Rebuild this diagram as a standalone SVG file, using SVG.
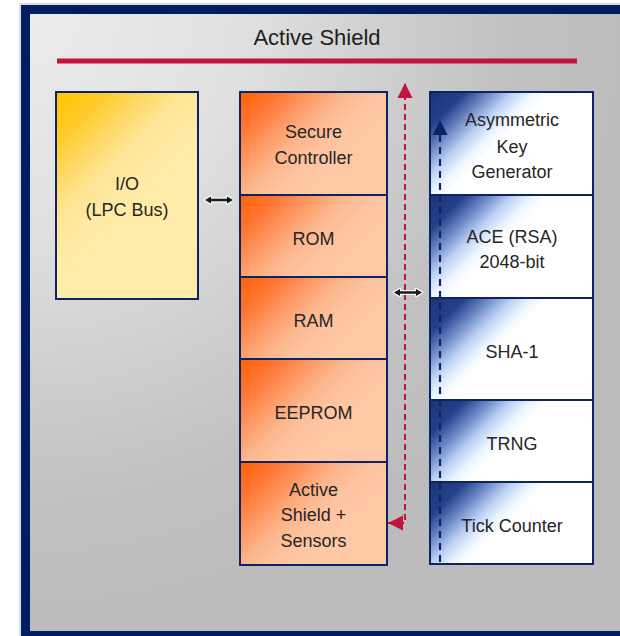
<svg xmlns="http://www.w3.org/2000/svg" xmlns:xlink="http://www.w3.org/1999/xlink" width="620" height="636" viewBox="0 0 620 636">
  <style>
    .cell { stroke: #0c2463; stroke-width: 2; }
    .lbl { font-family: "Liberation Sans", Arial, sans-serif; font-size: 18px; fill: #262626; text-anchor: middle; }
    .title { font-family: "Liberation Sans", Arial, sans-serif; font-size: 22px; fill: #1e1e1e; text-anchor: middle; }
    .bus-red { fill: none; stroke: #c0143c; stroke-width: 2; stroke-dasharray: 6 4; }
    .bus-blue { fill: none; stroke: #0c2463; stroke-width: 2.2; stroke-dasharray: 7 5; }
  </style>
  <defs>
    <radialGradient id="bg" gradientUnits="userSpaceOnUse" cx="30" cy="15" r="600">
      <stop offset="0" stop-color="#ececec"/>
      <stop offset="0.35" stop-color="#e0e0e0"/>
      <stop offset="0.8" stop-color="#c1c1c1"/>
      <stop offset="1" stop-color="#bcbcbc"/>
    </radialGradient>

    <!-- diagonal shading from the top-left corner of each block -->
    <linearGradient id="gold" x1="0" y1="0" x2="0.45" y2="0.657">
      <stop offset="0" stop-color="#ffc400"/>
      <stop offset="0.25" stop-color="#ffcb28"/>
      <stop offset="0.45" stop-color="#ffd865"/>
      <stop offset="0.65" stop-color="#ffe594"/>
      <stop offset="0.85" stop-color="#ffeaa5"/>
      <stop offset="1" stop-color="#ffeca9"/>
    </linearGradient>

    <linearGradient id="orangeStops">
      <stop offset="0" stop-color="#ff6205"/>
      <stop offset="0.22" stop-color="#ff7430"/>
      <stop offset="0.42" stop-color="#ff9660"/>
      <stop offset="0.62" stop-color="#fcb68c"/>
      <stop offset="0.8" stop-color="#fec3a0"/>
      <stop offset="1" stop-color="#fec8a6"/>
    </linearGradient>
    <linearGradient id="orangeTall" xlink:href="#orangeStops" x1="0" y1="0" x2="0.776" y2="0.543"/>
    <linearGradient id="orangeShort" xlink:href="#orangeStops" x1="0" y1="0" x2="0.882" y2="0.492"/>

    <linearGradient id="blueStops">
      <stop offset="0" stop-color="#1b3573"/>
      <stop offset="0.22" stop-color="#24408a"/>
      <stop offset="0.38" stop-color="#6f8bc8"/>
      <stop offset="0.52" stop-color="#bcd0f4"/>
      <stop offset="0.64" stop-color="#e8f4ff"/>
      <stop offset="0.74" stop-color="#ffffff"/>
      <stop offset="1" stop-color="#ffffff"/>
    </linearGradient>
    <linearGradient id="blueTall" xlink:href="#blueStops" x1="0" y1="0" x2="0.70" y2="0.443"/>
    <linearGradient id="blueShort" xlink:href="#blueStops" x1="0" y1="0" x2="0.78" y2="0.394"/>

    <marker id="headRed" viewBox="0 0 10 10" refX="10" refY="5" markerUnits="userSpaceOnUse" markerWidth="15" markerHeight="16" orient="auto-start-reverse">
      <path d="M0,0 L10,5 L0,10 z" fill="#c0143c"/>
    </marker>
    <marker id="headBlue" viewBox="0 0 10 10" refX="10" refY="5" markerUnits="userSpaceOnUse" markerWidth="15" markerHeight="16" orient="auto">
      <path d="M0,0 L10,5 L0,10 z" fill="#0c2463"/>
    </marker>
    <!-- short two-way bus arrow, centred on the origin -->
    <g id="dbl">
      <polygon points="-14,0 -8,-3.6 -8,-1.3 8,-1.3 8,-3.6 14,0 8,3.6 8,1.3 -8,1.3 -8,3.6" fill="#1a1a1a" stroke="#f2f6ff" stroke-width="2.4" stroke-linejoin="round" paint-order="stroke"/>
    </g>
  </defs>

  <!-- frame -->
  <rect x="20" y="4" width="620" height="640" fill="none" stroke="#cfcfcf" stroke-width="1.5"/>
  <rect x="25.5" y="9.5" width="620" height="626" fill="url(#bg)" stroke="#001e60" stroke-width="9"/>

  <g id="title">
    <text class="title" x="317" y="45">Active Shield</text>
    <rect x="57" y="58.5" width="520" height="5" fill="#c0143c"/>
  </g>

  <g id="io">
    <rect class="cell" x="56" y="92" width="142" height="207" fill="url(#gold)"/>
    <text class="lbl" x="127" y="190">I/O</text>
    <text class="lbl" x="127" y="216">(LPC Bus)</text>
  </g>

  <g id="secure-controller">
    <rect class="cell" x="240" y="92" width="147" height="103" fill="url(#orangeTall)"/>
    <text class="lbl" x="313.5" y="138">Secure</text>
    <text class="lbl" x="313.5" y="164">Controller</text>
  </g>
  <g id="rom">
    <rect class="cell" x="240" y="195" width="147" height="82" fill="url(#orangeShort)"/>
    <text class="lbl" x="313.5" y="245">ROM</text>
  </g>
  <g id="ram">
    <rect class="cell" x="240" y="277" width="147" height="82" fill="url(#orangeShort)"/>
    <text class="lbl" x="313.5" y="326.5">RAM</text>
  </g>
  <g id="eeprom">
    <rect class="cell" x="240" y="359" width="147" height="103" fill="url(#orangeTall)"/>
    <text class="lbl" x="313.5" y="418.5">EEPROM</text>
  </g>
  <g id="active-shield-sensors">
    <rect class="cell" x="240" y="462" width="147" height="103" fill="url(#orangeTall)"/>
    <text class="lbl" x="313.5" y="496">Active</text>
    <text class="lbl" x="313.5" y="521">Shield +</text>
    <text class="lbl" x="313.5" y="547">Sensors</text>
  </g>

  <g id="key-generator">
    <rect class="cell" x="430" y="92" width="163" height="103" fill="url(#blueTall)"/>
    <text class="lbl" x="512" y="126">Asymmetric</text>
    <text class="lbl" x="512" y="153">Key</text>
    <text class="lbl" x="512" y="178">Generator</text>
  </g>
  <g id="ace">
    <rect class="cell" x="430" y="195" width="163" height="103" fill="url(#blueTall)"/>
    <text class="lbl" x="512" y="242.5">ACE (RSA)</text>
    <text class="lbl" x="512" y="267.5">2048-bit</text>
  </g>
  <g id="sha1">
    <rect class="cell" x="430" y="298" width="163" height="102" fill="url(#blueTall)"/>
    <text class="lbl" x="512" y="358">SHA-1</text>
  </g>
  <g id="trng">
    <rect class="cell" x="430" y="400" width="163" height="82" fill="url(#blueShort)"/>
    <text class="lbl" x="512" y="449.5">TRNG</text>
  </g>
  <g id="tick-counter">
    <rect class="cell" x="430" y="482" width="163" height="82" fill="url(#blueShort)"/>
    <text class="lbl" x="512" y="532">Tick Counter</text>
  </g>

  <g id="connectors">
    <path class="bus-red" d="M388,523 H405 V83" marker-start="url(#headRed)" marker-end="url(#headRed)"/>
    <path class="bus-blue" d="M440,562 V120" marker-end="url(#headBlue)"/>
    <use xlink:href="#dbl" x="219" y="200"/>
    <use xlink:href="#dbl" x="408" y="292.5"/>
  </g>
</svg>
